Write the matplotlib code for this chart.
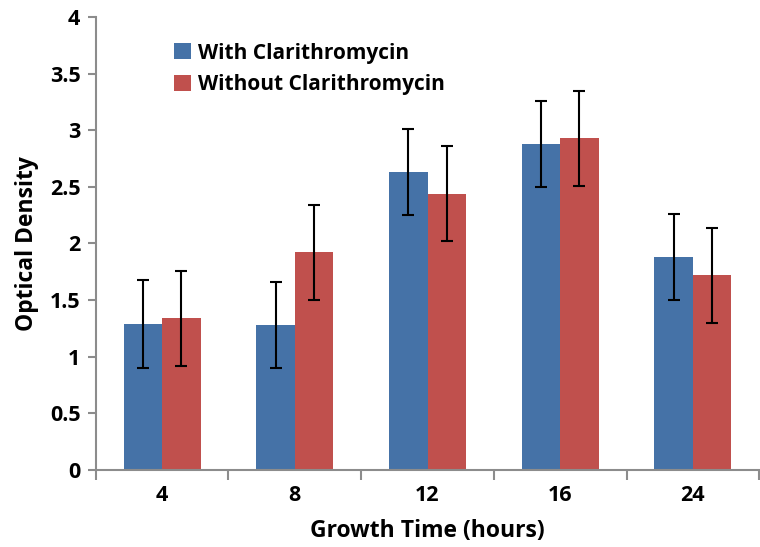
import numpy as np
import matplotlib.pyplot as plt

plt.rcParams['font.family'] = ['Open Sans', 'DejaVu Sans']

hours = ["4", "8", "12", "16", "24"]
with_clari = [1.29, 1.28, 2.63, 2.88, 1.88]
with_err = [0.39, 0.38, 0.38, 0.38, 0.38]
without_clari = [1.34, 1.92, 2.44, 2.93, 1.72]
without_err = [0.42, 0.42, 0.42, 0.42, 0.42]
yticks = [0, 0.5, 1, 1.5, 2, 2.5, 3, 3.5, 4]
ytick_labels = ["0", "0.5", "1", "1.5", "2", "2.5", "3", "3.5", "4"]

blue = "#4572A7"
red = "#C0504D"
grey = "#8c8c8c"

fig = plt.figure(figsize=(7.6, 5.47), dpi=100)
ax = fig.add_axes([0.126, 0.141, 0.873, 0.828])

x = np.arange(len(hours))
w = 0.29
ax.bar(x - w / 2, with_clari, w, color=blue, label="With Clarithromycin",
       yerr=with_err, error_kw=dict(ecolor="black", capsize=4.5, elinewidth=1.5, capthick=1.5))
ax.bar(x + w / 2, without_clari, w, color=red, label="Without Clarithromycin",
       yerr=without_err, error_kw=dict(ecolor="black", capsize=4.5, elinewidth=1.5, capthick=1.5))

ax.set_xlim(-0.5, len(hours) - 0.5)
ax.set_ylim(0, 4)
ax.set_yticks(yticks)
ax.set_yticklabels(ytick_labels, fontsize=15.5, fontweight="bold")
ax.set_xticks(x)
ax.set_xticklabels(hours, fontsize=15.5, fontweight="bold")
ax.set_xticks(np.arange(-0.5, len(hours), 1), minor=True)
ax.tick_params(axis="x", which="major", length=0, pad=11)
ax.tick_params(axis="x", which="minor", length=7, width=1.5, color=grey, direction="out")
ax.tick_params(axis="y", length=6, width=1.5, color=grey, direction="out", pad=5)

for s in ["top", "right"]:
    ax.spines[s].set_visible(False)
for s in ["left", "bottom"]:
    ax.spines[s].set_color(grey)
    ax.spines[s].set_linewidth(1.5)

ax.set_xlabel("Growth Time (hours)", fontsize=16.5, fontweight="bold", labelpad=9)
ax.set_ylabel("Optical Density", fontsize=16.5, fontweight="bold", labelpad=8)

leg = ax.legend(loc="upper left", bbox_to_anchor=(0.09, 0.985), frameon=False,
                prop=dict(size=15, weight="bold"), handlelength=0.8, handleheight=0.8,
                handletextpad=0.35, labelspacing=0.5)

fig.savefig("out.png", dpi=100)
